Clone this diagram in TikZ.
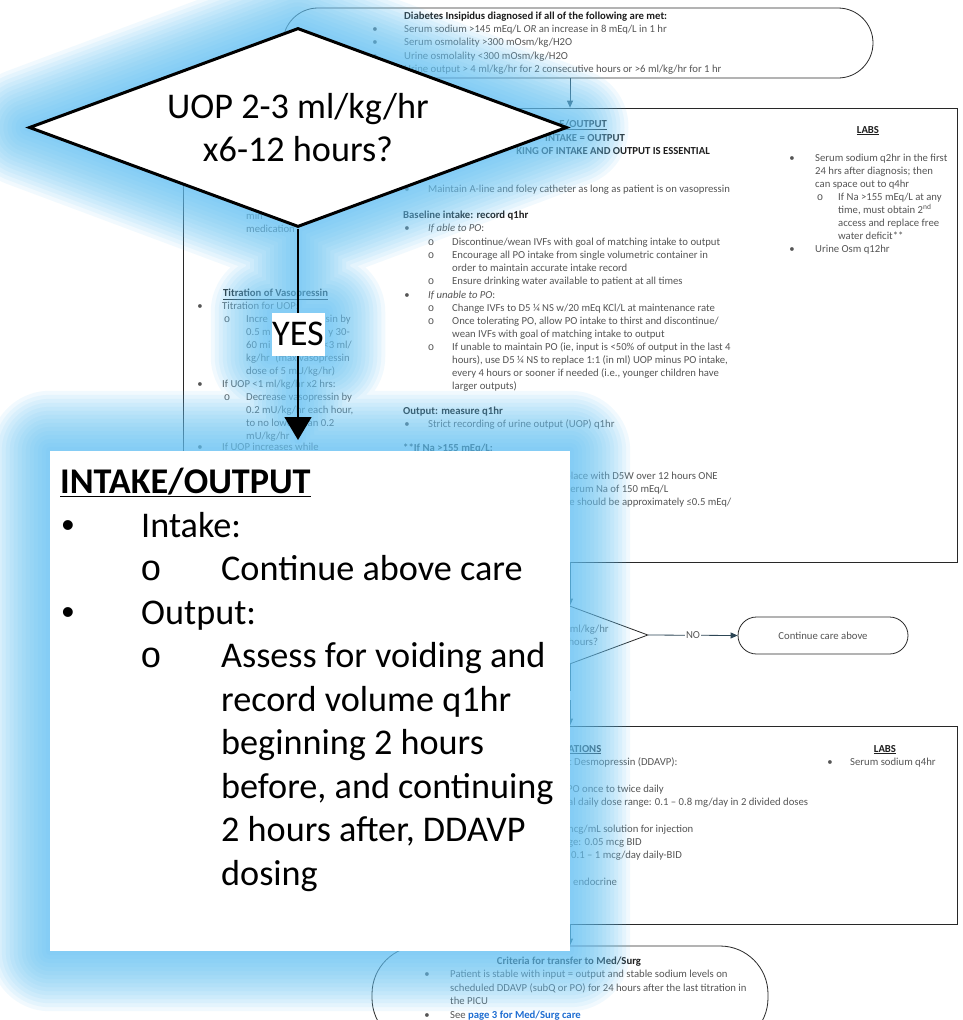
\documentclass[tikz,border=0pt]{standalone}
\usepackage{fontspec}
\setmainfont{Carlito}
\newfontfamily\monofont{Liberation Mono}
\newfontfamily\dotfont{Liberation Sans}
\usetikzlibrary{arrows.meta,shapes.geometric}

\pgfdeclarelayer{base}
\pgfdeclarelayer{haze}
\pgfsetlayers{base,haze,main}

\definecolor{bodytext}{RGB}{85,85,85}
\definecolor{headtext}{RGB}{30,30,30}
\definecolor{linktext}{RGB}{30,110,210}
\definecolor{frame}{RGB}{40,40,40}
\definecolor{connline}{RGB}{45,70,85}
\definecolor{hazeblue}{RGB}{100,195,245}

\newcommand\smallsize{\fontsize{10.7}{13.2}\selectfont}
\newcommand\bigsize{\fontsize{36.2}{43.4}\selectfont}

% one text line per node, named automatically
\newcounter{lineno}
\newcommand\putline[4][]{\stepcounter{lineno}\node[smalltext,#1] (ln\arabic{lineno}) at (#2,#3) {#4};}
\newcommand\bitem[4]{\putline[anchor=base]{#1}{#3}{\textbullet}\putline{#2}{#3}{#4}}
\newcommand\oitem[4]{\putline[anchor=base]{#1}{#3}{\monofont o}\putline{#2}{#3}{#4}}
\newcommand\putbig[4][]{\stepcounter{lineno}\node[bigtext,#1] (big\arabic{lineno}) at (#2,#3) {#4};}

\tikzset{
  smalltext/.style={anchor=base west, inner sep=0pt, font=\smallsize, text=bodytext},
  boldline/.style={font=\smallsize\bfseries, text=headtext},
  bigtext/.style={anchor=base west, inner sep=0pt, font=\bigsize, text=black},
  flowbox/.style={draw=frame, line width=0.8pt, rectangle, inner sep=0pt},
  decision/.style={draw=frame, line width=0.8pt, diamond, aspect=2.7, inner sep=0pt, align=center, font=\smallsize, text=bodytext},
  conn/.style={draw=connline, line width=0.8pt, -{Triangle[width=6pt,length=7pt]}},
  connlabel/.style={fill=white, inner sep=1pt, font=\smallsize, text=bodytext},
  bigdecision/.style={diamond, aspect=2.7, draw=black, line width=3pt, fill=white, inner sep=0pt, align=center, font=\bigsize},
  bigconn/.style={draw=black, line width=1.5pt, -{Triangle[width=27pt,length=23pt]}},
  biglabel/.style={fill=white, inner sep=0pt, minimum width=53pt, minimum height=43pt, font=\bigsize},
  callout/.style={fill=white, rectangle, inner sep=0pt},
  glowpen/.style={draw=hazeblue, draw opacity=0.09, line join=round, line cap=round},
}

\begin{document}
\begin{tikzpicture}[x=1pt,y=-1pt]
\useasboundingbox (0,0) rectangle (962,1020);

% ---------------- the flowchart page ----------------
\begin{pgfonlayer}{base}
\fill[white] (0,0) rectangle (962,1020);

\node[flowbox, rounded corners=35pt, minimum width=590pt, minimum height=70pt] (dxterm) at (578,43) {};
\node[flowbox, minimum width=774pt, minimum height=454pt] (box1) at (570,335) {};
\node[decision, minimum width=156pt, minimum height=58pt] (smallq) at (570,635) {UOP 2-3 ml/kg/hr\\x6-12 hours?};
\node[flowbox, rounded corners=18.5pt, minimum width=170pt, minimum height=37pt, font=\smallsize, text=bodytext] (contcare) at (823,635.5) {Continue care above};
\node[flowbox, minimum width=774pt, minimum height=198pt] (box2) at (570,825) {};
\node[flowbox, rounded corners=48pt, minimum width=396pt, minimum height=100pt] (exitterm) at (570,996) {};

\draw[conn] (dxterm.south -| box1.north) -- (box1.north);
\draw[conn] (box1.south) -- (smallq.north);
\draw[conn] (smallq.east) -- node[connlabel] (nolbl) {NO} (contcare.west);
\draw[conn] (smallq.south) -- node[connlabel, xshift=-7pt] (yeslbl) {YES} (box2.north);
\draw[conn] (box2.south) -- (exitterm.north);

% diagnosis criteria
\putline[boldline]{404}{19.2}{Diabetes Insipidus diagnosed if all of the following are met:}
\bitem{375}{404}{32.5}{Serum sodium >145 mEq/L \textit{OR} an increase in 8 mEq/L in 1 hr}
\bitem{375}{404}{45.8}{Serum osmolality >300 mOsm/kg/H2O}
\bitem{375}{404}{59.1}{Urine osmolality <300 mOsm/kg/H2O}
\bitem{375}{404}{72.4}{Urine output > 4 ml/kg/hr for 2 consecutive hours or >6 ml/kg/hr for 1 hr}

% first care box, middle column
\putline[boldline, anchor=base east]{607}{127}{\underline{E/OUTPUT}}
\putline[boldline, anchor=base east]{625}{141}{INTAKE = OUTPUT}
\putline[boldline, anchor=base east]{710}{154}{KING OF INTAKE AND OUTPUT IS ESSENTIAL}
\bitem{407}{428}{192}{Maintain A-line and foley catheter as long as patient is on vasopressin}
\putline[boldline]{403}{218}{Baseline intake: record q1hr}
\bitem{407}{428}{231}{\textit{If able to PO}:}
\oitem{431}{452}{245}{Discontinue/wean IVFs with goal of matching intake to output}
\oitem{431}{452}{258}{Encourage all PO intake from single volumetric container in}
\putline{452}{271}{order to maintain accurate intake record}
\oitem{431}{452}{284}{Ensure drinking water available to patient at all times}
\bitem{407}{428}{298}{\textit{If unable to PO}:}
\oitem{431}{452}{311}{Change IVFs to D5 ¼ NS w/20 mEq KCl/L at maintenance rate}
\oitem{431}{452}{324}{Once tolerating PO, allow PO intake to thirst and discontinue/}
\putline{452}{337}{wean IVFs with goal of matching intake to output}
\oitem{431}{452}{350}{If unable to maintain PO (ie, input is <50\% of output in the last 4}
\putline{452}{363}{hours), use D5 ¼ NS to replace 1:1 (in ml) UOP minus PO intake,}
\putline{452}{376}{every 4 hours or sooner if needed (i.e., younger children have}
\putline{452}{389}{larger outputs)}
\putline[boldline]{403}{414}{Output: measure q1hr}
\bitem{407}{428}{427}{Strict recording of urine output (UOP) q1hr}
\putline[boldline]{403}{451}{**If Na >155 mEq/L:}
\putline{565}{479}{place with D5W over 12 hours ONE}
\putline{566}{492}{serum Na of 150 mEq/L}
\putline{565}{505}{se should be approximately ≤0.5 mEq/}

% first care box, labs column
\putline[boldline, anchor=base]{868}{133}{\underline{LABS}}
\bitem{792}{815}{161}{Serum sodium q2hr in the first}
\putline{815}{174}{24 hrs after diagnosis; then}
\putline{815}{187}{can space out to q4hr}
\oitem{820}{838}{200}{If Na >155 mEq/L at any}
\putline{838}{213}{time, must obtain 2\textsuperscript{nd}}
\putline{838}{226}{access and replace free}
\putline{838}{239}{water deficit**}
\bitem{792}{815}{252}{Urine Osm q12hr}

% first care box, left column
\putline{246}{219}{min}
\putline{246}{232}{medication}
\putline[boldline]{223}{296}{\underline{Titration of Vasopressin}}
\bitem{200}{222}{309}{Titration for UOP:}
\oitem{227}{246}{322}{Incre}
\putline[anchor=base east]{351}{322}{sin by}
\putline{246}{335}{0.5 m}
\putline[anchor=base east]{350}{335}{y 30-}
\putline{246}{348}{60 mi}
\putline[anchor=base east]{352}{348}{<3 ml/}
\putline{246}{361}{kg/hr\enspace(max vasopressin}
\putline{246}{374}{dose of 5 mU/kg/hr)}
\bitem{200}{222}{387}{If UOP <1 ml/kg/hr x2 hrs:}
\oitem{227}{246}{400}{Decrease vasopressin by}
\putline{246}{413}{0.2 mU/kg/hr each hour,}
\putline{246}{426}{to no lower than 0.2}
\putline{246}{439}{mU/kg/hr}
\bitem{200}{222}{450}{If UOP increases while}

% second care box
\putline[boldline]{568}{752}{\underline{ATIONS}}
\putline{568}{765}{t Desmopressin (DDAVP):}
\putline{567}{792}{PO once to twice daily}
\putline{568}{805}{al daily dose range: 0.1 – 0.8 mg/day in 2 divided doses}
\putline{565}{832}{mcg/mL solution for injection}
\putline{568}{845}{ge: 0.05 mcg BID}
\putline{571}{858}{0.1 – 1 mcg/day daily-BID}
\putline{573}{885}{endocrine}
\putline[boldline, anchor=base]{885}{752}{\underline{LABS}}
\bitem{830}{850}{765}{Serum sodium q4hr}

% transfer criteria
\putline[boldline, anchor=base]{569}{964}{Criteria for transfer to Med/Surg}
\bitem{427}{450}{977.5}{Patient is stable with input = output and stable sodium levels on}
\putline{450}{991}{scheduled DDAVP (subQ or PO) for 24 hours after the last titration in}
\putline{450}{1004.5}{the PICU}
\bitem{427}{450}{1018}{See {\bfseries\color{linktext}page 3 for Med/Surg care}}
\end{pgfonlayer}

% ---------------- enlarged call-outs ----------------
\node[callout, minimum width=520pt, minimum height=500pt] (iobox) at (310,701) {};
\node[bigdecision, minimum width=538pt, minimum height=199pt] (bigq) at (298,127.5) {UOP 2-3 ml/kg/hr\\x6-12 hours?};
\coordinate (bigtip) at (298,440);
\draw[bigconn] (bigq.south) -- node[biglabel] (bigyes) {YES} (bigtip);

\putbig[font=\bigsize\bfseries]{60}{493}{\underline{INTAKE/OUTPUT}}
\putbig[anchor=base]{68}{537}{\dotfont •}
\putbig{141}{537}{Intake:}
\putbig[anchor=base]{151}{580.5}{\monofont o}
\putbig{221}{580.5}{Continue above care}
\putbig[anchor=base]{68}{624}{\dotfont •}
\putbig{141}{624}{Output:}
\putbig[anchor=base]{151}{667.5}{\monofont o}
\putbig{221}{667.5}{Assess for voiding and}
\putbig{221}{711}{record volume q1hr}
\putbig{221}{754.5}{beginning 2 hours}
\putbig{221}{798}{before, and continuing}
\putbig{221}{841.5}{2 hours after, DDAVP}
\putbig{221}{885}{dosing}

% soft blue halo round the call-outs
\begin{pgfonlayer}{haze}
\foreach \h in {4,8,...,60}{
  \draw[glowpen, line width=\h*2pt]
    (bigq.north) -- (bigq.east) -- (bigq.south) -- (bigq.west) -- cycle
    (bigyes.south west) rectangle (bigyes.north east)
    (bigq.south) -- (bigtip)
    (iobox.south west) rectangle (iobox.north east);
}
\end{pgfonlayer}
\end{tikzpicture}
\end{document}
